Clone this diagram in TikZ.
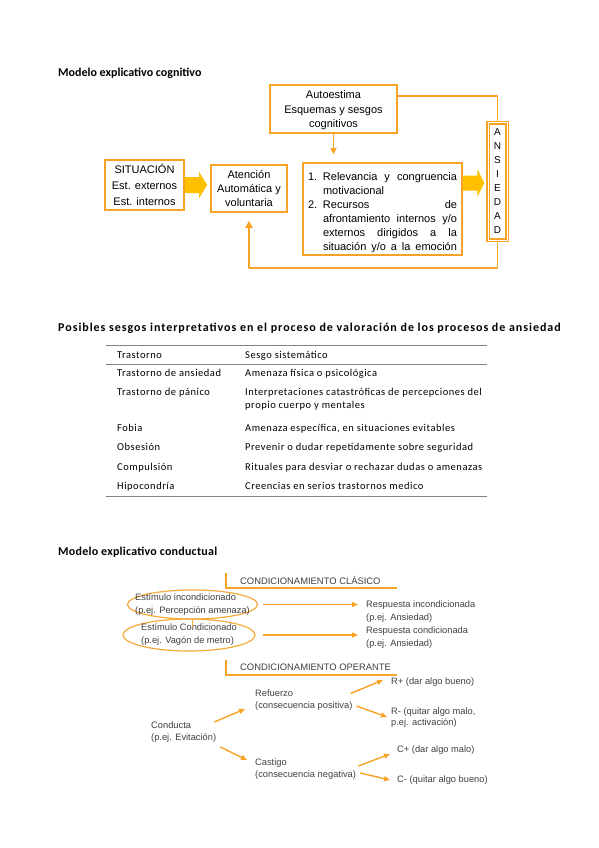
\documentclass[tikz,border=0pt]{standalone}
\usepackage{fontspec}
\setmainfont{Carlito}
\newfontfamily\arialf{Liberation Sans}
\newfontfamily\tablaf[LetterSpace=5]{Carlito}
\usetikzlibrary{calc,shapes.geometric,arrows.meta}
\definecolor{boxorange}{RGB}{246,163,38}
\definecolor{fatgold}{RGB}{255,192,0}
\definecolor{elorange}{RGB}{245,170,60}
\definecolor{rulegray}{RGB}{130,130,130}
\tikzset{
  titulo/.style={anchor=west,inner sep=0,font=\fontsize{12}{14}\selectfont\bfseries},
  obox/.style={draw=boxorange,line width=1.6pt,fill=white,inner sep=0,align=center,
    font=\arialf\fontsize{11}{14}\selectfont},
  fat/.style={fill=fatgold},
  enlace/.style={draw=boxorange,line width=1.8pt,line join=round},
  celda/.style={anchor=base west,inner sep=0,align=left,font=\tablaf\fontsize{10.5}{13}\selectfont},
  texto/.style={inner sep=0,align=left,text=black!75,font=\arialf\fontsize{9.3}{13}\selectfont},
  elipse/.style={ellipse,draw=elorange,line width=1.2pt,inner sep=0},
  oflecha/.style={draw=boxorange,line width=1.4pt,-{Triangle[length=6pt,width=5pt]}},
}
\begin{document}
\begin{tikzpicture}[x=1pt,y=-1pt]
\useasboundingbox[fill=white] (0,0) rectangle (599,848);

% modelo cognitivo
\node[titulo] (t1) at (58,73) {Modelo explicativo cognitivo};
\node[obox,minimum width=127,minimum height=48] (autoest) at (333.5,109) {};
\node[inner sep=0,align=center,font=\arialf\fontsize{11}{14.5}\selectfont] (autotx) at (333.5,110.5)
  {Autoestima\\Esquemas y sesgos\\cognitivos};
\node[obox,minimum width=79,minimum height=50,font=\arialf\fontsize{11}{16}\selectfont] (sit) at (144.5,185)
  {SITUACIÓN\\Est. externos\\Est. internos};
\node[obox,minimum width=76,minimum height=47] (aten) at (249,188.5)
  {Atención\\Automática y\\voluntaria};
\node[obox,minimum width=159,minimum height=92] (valor) at (382.5,209) {};
\node[inner sep=0,text width=149,align=left,font=\arialf\fontsize{11}{14}\selectfont] (valortx) at (382.5,212.5)
  {\makebox[15pt][l]{1.}Relevancia\hfill y\hfill congruencia\\
   \hspace*{15pt}motivacional\\
   \makebox[15pt][l]{2.}Recursos\hfill de\\
   \hspace*{15pt}afrontamiento\hfill internos\hfill y/o\\
   \hspace*{15pt}externos\hfill dirigidos\hfill a\hfill la\\
   \hspace*{15pt}situación\hfill y/o\hfill a\hfill la\hfill emoción};
\node[obox,minimum width=19,minimum height=117,line width=1.4pt,double=white,double distance=1pt,
  font=\arialf\fontsize{10}{14}\selectfont] (ansiedad) at (497.5,181.5)
  {A\\N\\S\\I\\E\\D\\A\\D};

\draw[enlace] ($(autoest.north east)+(0,12)$) -| (ansiedad.north);
\draw[enlace,-{Triangle[length=6pt,width=6pt]}] (autoest.south) -- ($(autoest.south |- valor.north)+(0,-8)$);
\draw[enlace,-{Triangle[length=7pt,width=7pt]}] (ansiedad.south) -- ++(0,27) -| ($(aten.south)+(0,8)$);

\coordinate (f1) at ($(sit.east -| aten.west)+(-3,0)$);
\fill[fat] ($(sit.east)+(0,-8)$) -- ($(f1)+(-8,-8)$) -- ($(f1)+(-8,-13)$) -- (f1)
  -- ($(f1)+(-8,13)$) -- ($(f1)+(-8,8)$) -- ($(sit.east)+(0,8)$) -- cycle;
\coordinate (f2) at ($(ansiedad.west)+(-3,1.5)$);
\fill[fat] ($(valor.east |- f2)+(0,-7.5)$) -- ($(f2)+(-7,-7.5)$) -- ($(f2)+(-7,-14)$) -- (f2)
  -- ($(f2)+(-7,14)$) -- ($(f2)+(-7,7.5)$) -- ($(valor.east |- f2)+(0,7.5)$) -- cycle;

% tabla de sesgos
\node[titulo,font=\fontsize{12}{14}\selectfont\bfseries\addfontfeature{LetterSpace=8}] (t2) at (58,328)
  {Posibles sesgos interpretativos en el proceso de valoración de los procesos de ansiedad};
\draw[rulegray,line width=1pt] (106,345) -- (487,345);
\draw[rulegray,line width=0.6pt] (106,364) -- (487,364);
\draw[rulegray,line width=1pt] (106,496) -- (487,496);
\node[celda] (ca0) at (117,358.5) {Trastorno};
\node[celda] (cb0) at (245,358.5) {Sesgo sistemático};
\foreach \y/\yb/\a/\b [count=\i] in {
  376.5/376.5/Trastorno de ansiedad/Amenaza física o psicológica,
  395.5/408.5/Trastorno de pánico/{Interpretaciones catastróficas de percepciones del\\propio cuerpo y mentales},
  431.5/431.5/Fobia/{Amenaza específica, en situaciones evitables},
  450.5/450.5/Obsesión/Prevenir o dudar repetidamente sobre seguridad,
  470.5/470.5/Compulsión/Rituales para desviar o rechazar dudas o amenazas,
  489.5/489.5/Hipocondría/Creencias en serios trastornos medico} {
  \node[celda] (ca\i) at (117,\y) {\a};
  \node[celda] (cb\i) at (245,\yb) {\b};
}

% modelo conductual
\node[titulo,font=\fontsize{12}{14}\selectfont\bfseries\addfontfeature{LetterSpace=2}] (t3) at (58,552) {Modelo explicativo conductual};
\node[texto,anchor=west,font=\arialf\fontsize{9.4}{11}\selectfont] (clasico) at (240,580) {CONDICIONAMIENTO CLÁSICO};
\draw[boxorange,line width=1.2pt] (226,573) |- (397,588);
\node[texto,anchor=west,font=\arialf\fontsize{9.4}{11}\selectfont] (operante) at (240,667) {CONDICIONAMIENTO OPERANTE};
\draw[boxorange,line width=1.2pt] (226,660) |- (397,675);

\node[elipse,minimum width=130,minimum height=29] (est1) at (192.5,604.5) {};
\node[texto] (tx1) at (est1) {Estímulo incondicionado\\(p.ej. Percepción amenaza)};
\node[elipse,minimum width=132,minimum height=32] (est2) at (189,635) {};
\node[texto] (tx2) at (est2) {Estímulo Condicionado\\(p.ej. Vagón de metro)};
\draw[elorange,line width=1.2pt] (est1.south) -- ++(0,7);
\node[texto,anchor=west] (resp1) at (366,611.5) {Respuesta incondicionada\\(p.ej. Ansiedad)};
\node[texto,anchor=west] (resp2) at (366,638) {Respuesta condicionada\\(p.ej. Ansiedad)};
\draw[oflecha,shorten <=5pt,shorten >=8pt] (est1.east) -- (est1.east -| resp1.west);
\draw[oflecha,shorten <=7pt,shorten >=8pt] (est2.east) -- (est2.east -| resp2.west);

\node[texto,anchor=west,font=\arialf\fontsize{9.3}{12.5}\selectfont] (conducta) at (151,732) {Conducta\\(p.ej. Evitación)};
\node[texto,anchor=west,font=\arialf\fontsize{9.3}{12}\selectfont] (refuerzo) at (255,700.5) {Refuerzo\\(consecuencia positiva)};
\node[texto,anchor=west,font=\arialf\fontsize{9.3}{12}\selectfont] (castigo) at (255,769) {Castigo\\(consecuencia negativa)};
\node[texto,anchor=west] (rmas) at (391,682.5) {R+ (dar algo bueno)};
\node[texto,anchor=west,font=\arialf\fontsize{9.3}{11}\selectfont] (rmenos) at (391,718) {R- (quitar algo malo,\\p.ej. activación)};
\node[texto,anchor=west] (cmas) at (397,750.5) {C+ (dar algo malo)};
\node[texto,anchor=west] (cmenos) at (397,780.5) {C- (quitar algo bueno)};

\draw[oflecha] ($(conducta.east)+(-2,-10)$) -- ($(refuerzo.west)+(-10,8.5)$);
\draw[oflecha] ($(conducta.east)+(4,15)$) -- ($(castigo.west)+(-8,-9)$);
\draw[oflecha] ($(refuerzo.east)+(-2,-7)$) -- ($(rmas.west)+(-8,-2.5)$);
\draw[oflecha] ($(refuerzo.east)+(4,5.5)$) -- ($(rmenos.west)+(-4,-1)$);
\draw[oflecha] ($(castigo.east)+(2,-3)$) -- ($(cmas.west)+(-7,3.5)$);
\draw[oflecha] ($(castigo.east)+(4,4)$) -- ($(cmenos.west)+(-7,-0.5)$);
\end{tikzpicture}
\end{document}
